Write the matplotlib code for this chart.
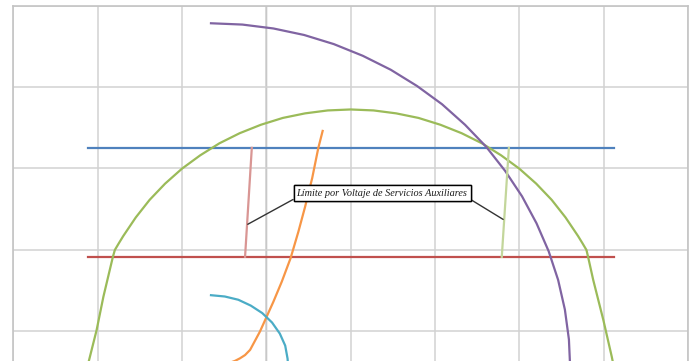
import numpy as np
import matplotlib.pyplot as plt

# Q (x) / P (y) capability limits, per-unit
q_turbine = [-0.53, 1.03]
p_turbine = [0.813, 0.813]

q_minload = [-0.53, 1.03]
p_minload = [0.477, 0.477]

q_stator = [-0.540, -0.526, -0.503, -0.483, -0.455, -0.449, -0.437,
            -0.424, -0.387, -0.346, -0.300, -0.250, -0.196, -0.139, -0.079,
            -0.016, 0.049, 0.115, 0.182, 0.250, 0.318, 0.385, 0.451, 0.516,
            0.579, 0.639, 0.696, 0.750, 0.800, 0.846, 0.887, 0.924, 0.937,
            0.949, 0.954, 0.969, 0.999, 1.024, 1.034]
p_stator = [0.100, 0.158, 0.253, 0.355, 0.477, 0.499, 0.520,
            0.542, 0.599, 0.653, 0.703, 0.749, 0.790, 0.827, 0.858,
            0.884, 0.905, 0.919, 0.928, 0.931, 0.928, 0.919, 0.905, 0.884,
            0.858, 0.827, 0.790, 0.749, 0.703, 0.653, 0.599, 0.542, 0.520,
            0.499, 0.477, 0.407, 0.284, 0.171, 0.120]

q_rotor = [-0.164, -0.071, 0.021, 0.112, 0.200, 0.286, 0.369, 0.447, 0.521,
           0.589, 0.652, 0.708, 0.758, 0.801, 0.837, 0.865, 0.885, 0.897,
           0.901, 0.897]
p_rotor = [1.196, 1.192, 1.180, 1.160, 1.132, 1.096, 1.053, 1.003, 0.947,
           0.884, 0.816, 0.742, 0.664, 0.581, 0.495, 0.407, 0.316, 0.224,
           0.131, 0.038]

q_stability = [0.167, 0.154, 0.136, 0.115, 0.095, 0.072, 0.046, 0.021,
               0.001, -0.019, -0.048, -0.063, -0.078, -0.093, -0.140]
p_stability = [0.865, 0.812, 0.720, 0.632, 0.555, 0.474, 0.402, 0.340,
               0.294, 0.248, 0.192, 0.176, 0.166, 0.158, 0.140]

q_minexc = [-0.164, -0.123, -0.083, -0.046, -0.012, 0.017, 0.040, 0.056,
            0.063, 0.066, 0.064]
p_minexc = [0.360, 0.356, 0.346, 0.328, 0.305, 0.276, 0.242, 0.205,
            0.165, 0.124, 0.083]

q_aux_low = [-0.043, -0.063]
p_aux_low = [0.813, 0.478]
q_aux_high = [0.719, 0.698]
p_aux_high = [0.813, 0.478]

aux_label = "Límite por Voltaje de Servicios Auxiliares"
label_pos = (0.343, 0.674)
aux_low_pt = (-0.055, 0.578)
aux_high_pt = (0.702, 0.593)

fig = plt.figure(figsize=(6.96, 3.61), dpi=100, facecolor="white")
ax = fig.add_axes([13.3 / 696, (361 - 412.3) / 361, 674.7 / 696, 406.6 / 361])
ax.set_xlim(-0.75, 1.25)
ax.set_ylim(0.0, 1.25)

ax.set_xticks(np.arange(-0.75, 1.26, 0.25))
ax.set_yticks(np.arange(0.0, 1.26, 0.25))
ax.grid(True, color="#D2D2D2", linewidth=1.1)
ax.axvline(0.0, color="#ABABAB", linewidth=1.0, zorder=1)
ax.tick_params(length=0, labelbottom=False, labelleft=False)
for s in ax.spines.values():
    s.set_color("#C4C4C4")
    s.set_linewidth(1.2)

lw = 1.6
ax.plot(q_turbine, p_turbine, color="#4F81BD", lw=lw)
ax.plot(q_minload, p_minload, color="#C0504D", lw=lw)
ax.plot(q_stator, p_stator, color="#9BBB59", lw=lw)
ax.plot(q_rotor, p_rotor, color="#8064A2", lw=lw)
ax.plot(q_stability, p_stability, color="#F79646", lw=lw)
ax.plot(q_minexc, p_minexc, color="#4BACC6", lw=lw)
ax.plot(q_aux_low, p_aux_low, color="#D99694", lw=lw)
ax.plot(q_aux_high, p_aux_high, color="#C3D69B", lw=lw)

box = dict(boxstyle="square,pad=0.3", facecolor="white", edgecolor="black",
           linewidth=1.0)
for target, rel in ((aux_low_pt, (0, 0)), (aux_high_pt, (1, 0))):
    ax.annotate(aux_label, xy=target, xytext=label_pos,
                ha="center", va="center", fontsize=7.4, style="italic",
                family="Liberation Serif", color="#1a1a1a", bbox=box,
                arrowprops=dict(arrowstyle="-", color="#333333", lw=1.0,
                                relpos=rel, shrinkA=0, shrinkB=0))

fig.savefig("out.png", dpi=100)
